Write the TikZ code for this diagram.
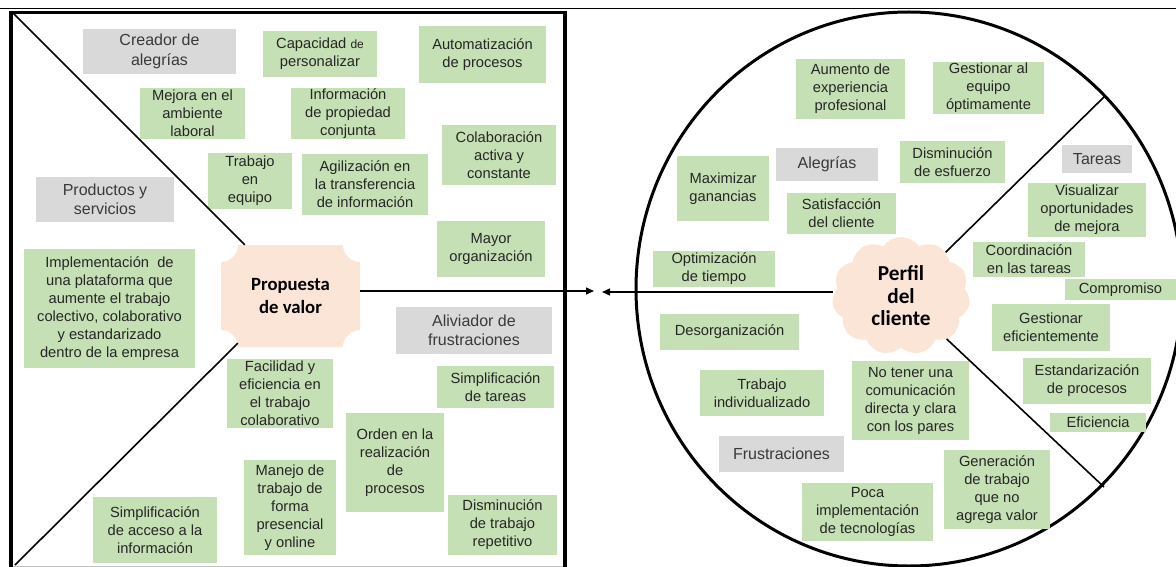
\documentclass[tikz,border=0pt]{standalone}
\usepackage{fontspec}
\setmainfont{Liberation Sans}
\newfontfamily\titlefont{Carlito}
\usetikzlibrary{shapes.symbols, arrows.meta}

\definecolor{boxgreen}{HTML}{C5E0B4}
\definecolor{labelgray}{HTML}{D9D9D9}
\definecolor{peach}{HTML}{FBE5D6}
\definecolor{ink}{HTML}{262626}
\definecolor{labelink}{HTML}{3A3A3A}

\tikzset{
  card/.style={fill=boxgreen, text=ink, inner sep=0pt, align=center,
    font=\fontsize{14.7}{18}\selectfont},
  tag/.style={fill=labelgray, text=labelink, inner sep=0pt, align=center,
    font=\fontsize{16}{19.5}\selectfont},
  divider/.style={line width=1.6pt, black},
  link/.style={line width=1.5pt, black, -{Triangle[length=8pt,width=7pt]}},
  title/.style={text=black, inner sep=0pt, align=center,
    font=\titlefont\bfseries\fontsize{18.7}{23}\selectfont},
}

% box given by its corners: style, name, x1, y1, x2, y2, text
\newcommand\boxat[7]{%
  \node[#1, minimum width={#5pt-#3pt}, minimum height={#6pt-#4pt}]
    (#2) at ({(#3+#5)/2},{(#4+#6)/2}) {#7};}

\begin{document}
\begin{tikzpicture}[x=1pt, y=-1pt]
\useasboundingbox (0,0) rectangle (1176,567);

% frame
\draw[line width=1.6pt] (0,8.5) -- (1176,8.5);
\draw[line width=3.5pt] (11,570) -- (11,12.5) -- (565,12.5) -- (565,570);
\draw[black!25, line width=1pt] (13,566) -- (563,566);

% customer circle
\draw[line width=3pt] (909,289) ellipse [x radius=273pt, y radius=277pt];

% ---------- value proposition square ----------
\boxat{tag}{creador}{83}{29}{236}{74}{Creador de\\alegrías}
\boxat{card}{capacidad}{263}{31}{377}{77}{Capacidad {\fontsize{12}{18}\selectfont de}\\personalizar}
\boxat{card}{automatizacion}{419}{26}{546}{83}{Automatización\\de procesos}
\boxat{card}{mejora}{140}{88}{245}{139}{Mejora en el\\ambiente\\laboral}
\boxat{card}{informacion}{291}{88}{405}{139}{Información\\de propiedad\\conjunta}
\boxat{card}{trabajo}{208}{153}{292}{209}{Trabajo\\en\\equipo}
\boxat{card}{agilizacion}{302}{154}{428}{215}{Agilización en\\la transferencia\\de información}
\boxat{card}{colaboracion}{442}{125}{556}{185}{Colaboración\\activa y\\constante}
\boxat{tag}{productos}{36}{177}{174}{222}{Productos y\\servicios}
\boxat{card}{mayor}{437}{221}{545}{277}{Mayor\\organización}
\boxat{card}{implementacion}{24}{249}{195}{368}{Implementación\ \ de\\una plataforma que\\aumente el trabajo\\colectivo, colaborativo\\y estandarizado\\dentro de la empresa}
\boxat{tag}{aliviador}{396}{307}{552}{354}{Aliviador de\\frustraciones}
\boxat{card}{facilidad}{227}{359}{333}{428}{Facilidad y\\eficiencia en\\el trabajo\\colaborativo}
\boxat{card}{simptareas}{437}{366}{554}{408}{Simplificación\\de tareas}
\boxat{card}{orden}{346}{413}{444}{512}{Orden en la\\realización\\de\\procesos}
\boxat{card}{manejo}{244}{460}{336}{555}{Manejo de\\trabajo de\\forma\\presencial\\y online}
\boxat{card}{simpacceso}{93}{497}{217}{563}{Simplificación\\de acceso a la\\información}
\boxat{card}{repetitivo}{448}{495}{557}{555}{Disminución\\de trabajo\\repetitivo}

% value proposition plaque
\node[title, minimum width=139pt, minimum height=102pt,
  path picture={
    \fill[peach]
      ([xshift=17pt]path picture bounding box.north west)
      -- ([xshift=-17pt]path picture bounding box.north east)
      arc[start angle=180, end angle=270, radius=17pt]
      -- ([yshift=17pt]path picture bounding box.south east)
      arc[start angle=90, end angle=180, radius=17pt]
      -- ([xshift=17pt]path picture bounding box.south west)
      arc[start angle=0, end angle=90, radius=17pt]
      -- ([yshift=-17pt]path picture bounding box.north west)
      arc[start angle=270, end angle=360, radius=17pt]
      -- cycle;
  }] (propuesta) at (290.5,296) {Propuesta\\de valor};

\coordinate (sqNW) at (12,12);
\coordinate (sqSW) at (15,565);
\draw[divider] (sqNW) -- ([xshift=24pt]propuesta.north west);
\draw[divider] ([xshift=17pt,yshift=4pt]propuesta.south west) -- (sqSW);

% ---------- customer profile circle ----------
\boxat{card}{aumento}{796}{59}{905}{119}{Aumento\ de\\experiencia\\profesional}
\boxat{card}{gestionarequipo}{933}{62}{1044}{114}{Gestionar al\\equipo\\óptimamente}
\boxat{tag}{alegrias}{776}{148}{878}{181}{Alegrías}
\boxat{card}{esfuerzo}{900}{141}{1005}{183}{Disminución\\de esfuerzo}
\boxat{card}{maximizar}{677}{156}{769}{221}{Maximizar\\ganancias}
\boxat{card}{satisfaccion}{787}{193}{896}{234}{Satisfacción\\del cliente}
\boxat{tag}{tareas}{1062}{145}{1132}{173}{Tareas}
\boxat{card}{visualizar}{1028}{183}{1146}{237}{Visualizar\\oportunidades\\de mejora}
\boxat{card}{coordinacion}{973}{242}{1085}{277}{Coordinación\\en las tareas}
\boxat{card}{compromiso}{1065}{279}{1176}{300}{Compromiso}
\boxat{card}{optimizacion}{653}{251}{775}{287}{Optimización\\de tiempo}
\boxat{card}{desorganizacion}{660}{314}{799}{350}{Desorganización}
\boxat{card}{gestionaref}{992}{304}{1110}{351}{Gestionar\\eficientemente}
\boxat{card}{estandarizacion}{1023}{358}{1151}{404}{Estandarización\\de procesos}
\boxat{card}{eficiencia}{1050}{413}{1146}{432}{Eficiencia}
\boxat{card}{individualizado}{700}{370}{824}{416}{Trabajo\\individualizado}
\boxat{card}{notener}{852}{361}{969}{440}{No tener una\\comunicación\\directa y clara\\con los pares}
\boxat{tag}{frustraciones}{719}{436}{844}{472}{Frustraciones}
\boxat{card}{generacion}{944}{450}{1050}{529}{Generación\\de trabajo\\que no\\agrega valor}
\boxat{card}{poca}{802}{483}{933}{541}{Poca\\implementación\\de tecnologías}

% customer profile cloud
\node[cloud, cloud puffs=11, cloud puff arc=110, aspect=1.17, fill=peach,
  minimum width=138pt, minimum height=118pt, inner sep=0pt, align=center,
  font=\titlefont\bfseries\fontsize{21.3}{22.5}\selectfont]
  (perfil) at (901,296) {Perfil\\del\\cliente};

\coordinate (rimA) at (1104,97);
\coordinate (rimB) at (1104,487);
\draw[divider] (perfil) -- (rimA);
\draw[divider] (perfil) -- (rimB);

% arrows between the two halves
\coordinate (tipR) at (594,291);
\coordinate (tipL) at (602,292);
\draw[link] (propuesta.east |- tipR) -- (tipR);
\draw[link] (perfil.west |- tipL) -- (tipL);
\end{tikzpicture}
\end{document}
